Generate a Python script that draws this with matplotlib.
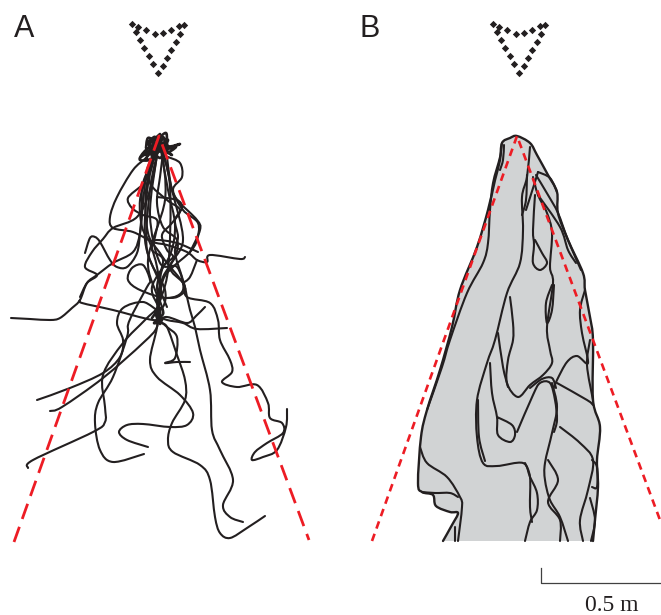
import matplotlib
matplotlib.use("Agg")
import matplotlib.pyplot as plt
from matplotlib.path import Path
from matplotlib.patches import PathPatch

BLACK = "#231f20"
RED = "#ed1c24"
GREY = "#d1d3d4"

# values, in image pixels
dots_x = [132, 138, 146, 155, 163, 171, 179, 184, 136, 140, 144, 149, 153, 158, 163, 167, 171, 176, 180]
dots_y = [24, 27, 30, 34, 33, 30, 26, 25, 32, 40, 48, 56, 64, 73, 66, 58, 50, 42, 34]
dots_shift_b = 361

cone_a_x = [14, 159, 309]
cone_a_y = [542, 136, 540]
cone_b_x = [372, 517, 660]
cone_b_y = [541, 136, 520]

# panel A, walked tracks
tracks_a = [
    [(11, 318), (30, 319), (50, 320), (60, 318), (72, 308), (80, 300), (87, 283), (97, 275), (113, 263), (133, 252), (140, 233), (143, 203), (147, 170), (155, 153), (160, 140)],
    [(80, 300), (82, 303), (113, 310), (153, 320), (167, 317), (187, 323), (196, 316), (205, 307)],
    [(245, 257), (240, 259), (210, 255), (207, 262), (197, 260), (187, 252), (167, 245), (153, 242), (133, 232), (113, 228), (110, 217), (117, 197), (133, 170), (147, 157), (160, 143)],
    [(85, 253), (90, 238), (95, 237), (100, 242), (110, 260), (117, 267), (127, 267), (137, 253), (140, 233), (142, 207), (143, 183), (157, 150)],
    [(80, 297), (87, 283), (97, 275), (85, 267), (92, 252), (103, 239), (113, 228), (137, 217), (150, 190), (158, 150)],
    [(265, 516), (247, 528), (230, 538), (220, 533), (215, 517), (210, 480), (200, 465), (173, 452), (168, 440), (172, 423), (185, 400), (185, 380), (177, 355), (167, 327), (160, 322), (160, 310), (152, 287), (170, 255), (175, 225), (168, 190), (160, 145)],
    [(243, 522), (230, 517), (223, 505), (233, 480), (220, 450), (212, 430), (210, 390), (200, 350), (195, 327), (190, 310), (187, 297), (183, 283), (167, 263), (160, 253), (148, 233), (146, 190), (156, 148)],
    [(287, 409), (286, 427), (277, 450), (263, 457), (252, 460), (255, 452), (267, 443), (283, 433), (282, 423), (270, 418), (268, 403), (257, 385), (237, 387), (222, 382), (232, 372), (230, 360), (220, 340), (218, 320), (210, 303), (187, 297), (183, 283), (170, 267), (183, 240), (172, 190), (163, 150)],
    [(37, 400), (70, 388), (103, 373), (120, 357), (123, 340), (117, 323), (123, 308), (143, 302), (160, 310), (165, 290), (147, 250), (150, 190), (158, 150)],
    [(50, 411), (62, 407), (103, 378), (143, 343), (157, 327), (157, 310), (168, 270), (170, 187), (160, 145)],
    [(28, 468), (33, 460), (93, 432), (105, 422), (105, 407), (103, 375), (123, 343), (145, 320), (158, 306), (160, 285), (145, 240), (150, 170), (160, 150)],
    [(144, 454), (113, 462), (100, 450), (95, 423), (98, 403), (113, 377), (127, 337), (128, 325), (133, 313), (147, 287), (150, 280), (143, 265), (132, 268), (128, 280), (140, 290), (167, 298), (183, 290), (177, 267), (160, 263), (150, 215), (157, 155)],
    [(148, 447), (127, 440), (119, 432), (127, 425), (143, 424), (170, 427), (187, 425), (193, 413), (180, 395), (157, 377), (150, 360), (157, 327), (158, 300), (148, 260), (165, 200), (162, 150)],
    [(190, 362), (177, 362), (165, 363), (175, 358), (177, 337), (167, 327), (160, 321)],
    [(227, 328), (197, 329), (183, 323), (167, 320), (158, 316)],
    [(168, 157), (180, 163), (182, 177), (173, 190), (183, 210), (198, 223), (197, 240), (190, 252), (173, 267), (163, 280), (158, 310)],
    [(157, 152), (147, 177), (140, 200), (142, 227), (150, 243), (157, 267), (160, 293), (157, 320)],
    [(163, 153), (160, 177), (157, 203), (163, 227), (177, 240), (175, 257), (163, 277), (157, 300), (160, 317)],
    [(153, 163), (150, 183), (167, 200), (180, 210), (172, 223), (162, 235), (167, 250), (173, 257), (163, 267), (160, 287), (167, 307)],
    [(167, 157), (170, 180), (173, 193), (180, 203), (197, 220), (200, 230), (190, 252)],
    [(157, 197), (177, 200), (182, 208), (175, 220), (178, 237), (175, 253), (182, 277), (185, 290), (177, 297), (167, 298)],
    [(140, 187), (128, 198), (132, 208), (143, 215), (157, 220), (155, 237), (152, 250), (163, 260), (157, 287), (163, 310)],
    [(198, 252), (177, 243), (157, 240), (152, 243)],
    [(197, 260), (190, 277), (183, 283)],
]

# dense knots where the tracks start and cross
knots_a = [
    [(146, 148), (148, 138), (156, 140), (166, 133), (168, 146), (180, 144), (166, 150), (172, 155), (158, 145), (146, 150), (140, 160), (156, 158), (150, 146)],
    [(160, 134), (150, 145), (164, 152), (156, 138), (152, 156), (168, 140), (148, 142), (160, 158), (166, 142), (154, 150)],
    [(147, 143), (155, 137), (150, 152), (143, 155), (158, 150), (163, 137), (167, 148), (176, 147), (165, 153), (156, 143)],
    [(140, 158), (150, 150), (146, 160), (156, 155), (150, 146), (162, 147), (152, 142)],
    [(152, 318), (160, 308), (163, 314), (154, 323), (162, 320), (155, 312), (160, 324)],
]

# panel B, area swept by the tracks, bottom left over the apex to bottom right
outer_b = [(443, 541), (452, 525), (458, 513), (450, 512), (436, 506), (433, 495), (422, 492), (418, 483), (421, 437), (427, 410), (440, 370), (452, 327), (460, 290), (477, 247), (488, 210), (495, 180), (500, 160), (502, 143), (510, 138), (517, 136), (530, 143), (537, 155), (548, 175), (557, 192), (558, 213), (568, 240), (583, 273), (585, 290), (590, 317), (593, 340), (593, 400), (600, 427), (597, 460), (598, 487), (595, 520), (593, 541)]

lines_b = [
    [(502, 143), (500, 157), (493, 183), (490, 210), (488, 243), (483, 263), (467, 293), (450, 340), (442, 367), (427, 410)],
    [(530, 147), (527, 177), (522, 197), (523, 230), (520, 263), (507, 293), (495, 340), (487, 363), (477, 400), (477, 437), (483, 463), (497, 466), (523, 463), (530, 477), (537, 493), (537, 510), (530, 522), (525, 541)],
    [(510, 297), (513, 323), (513, 340), (508, 360), (507, 383), (518, 397), (530, 385), (543, 375), (552, 363), (550, 350), (547, 327), (553, 283), (550, 267), (552, 233), (547, 213), (538, 195), (533, 177)],
    [(535, 195), (533, 230), (534, 245), (533, 263), (540, 270), (547, 263), (542, 253), (535, 240)],
    [(538, 172), (550, 178), (557, 192)],
    [(536, 175), (548, 195), (558, 213), (568, 240), (581, 270)],
    [(538, 195), (560, 227), (568, 250), (576, 263)],
    [(552, 285), (546, 303), (547, 323), (552, 310), (554, 285)],
    [(585, 290), (580, 310), (582, 333), (588, 363), (577, 356), (567, 362), (557, 380), (553, 390)],
    [(590, 340), (587, 365), (593, 400)],
    [(557, 383), (587, 400), (593, 405)],
    [(517, 432), (533, 395), (540, 383), (550, 383), (555, 400), (557, 420), (554, 432)],
    [(530, 388), (542, 379), (552, 378), (556, 388)],
    [(552, 383), (557, 407), (552, 433), (545, 463), (545, 480), (550, 500), (560, 517), (568, 541)],
    [(548, 460), (558, 480), (548, 502), (560, 520), (560, 541)],
    [(560, 427), (580, 443), (593, 460), (588, 490), (580, 520), (583, 541)],
    [(590, 498), (595, 520), (591, 541)],
    [(490, 363), (492, 393), (497, 417), (498, 435), (510, 442), (515, 435), (512, 425), (497, 417)],
    [(498, 333), (503, 367), (508, 387)],
    [(420, 447), (427, 463), (447, 477), (460, 497), (462, 507), (458, 541)],
    [(422, 492), (435, 493), (450, 493), (458, 497)],
    [(455, 527), (455, 541)],
    [(525, 463), (530, 477), (530, 507), (532, 522)],
    [(592, 460), (597, 467), (597, 487), (592, 487)],
    [(504, 145), (503, 160), (500, 170)],
    [(527, 175), (526, 200), (522, 215)],
    [(538, 172), (534, 185), (526, 210)],
    [(478, 400), (479, 437), (485, 461)],
]


def curve(points):
    # smooth path through the picture's points, as Bezier segments
    ends = [points[0]] + points + [points[-1]]
    verts = [points[0]]
    codes = [Path.MOVETO]
    for i in range(1, len(ends) - 2):
        p0, p1, p2, p3 = ends[i - 1], ends[i], ends[i + 1], ends[i + 2]
        verts.append((p1[0] + (p2[0] - p0[0]) / 6, p1[1] + (p2[1] - p0[1]) / 6))
        verts.append((p2[0] - (p3[0] - p1[0]) / 6, p2[1] - (p3[1] - p1[1]) / 6))
        verts.append(p2)
        codes += [Path.CURVE4, Path.CURVE4, Path.CURVE4]
    return Path(verts, codes)


def draw_curves(ax, groups, lw):
    for points in groups:
        ax.add_patch(PathPatch(curve(points), fill=False, ec=BLACK, lw=lw, capstyle="round", joinstyle="round"))


fig = plt.figure(figsize=(6.61, 6.15), dpi=100)
ax = fig.add_axes([0, 0, 1, 1])
ax.set_xlim(0, 661)
ax.set_ylim(615, 0)
ax.axis("off")

# panel A
draw_curves(ax, tracks_a, 1.5)
draw_curves(ax, knots_a, 1.9)
ax.plot(cone_a_x, cone_a_y, color=RED, lw=2.0, dashes=(5.8, 3.0), zorder=5)

# panel B
ax.add_patch(PathPatch(curve(outer_b), fc=GREY, ec="none"))
draw_curves(ax, [outer_b], 1.7)
draw_curves(ax, lines_b, 1.5)
ax.plot(cone_b_x, cone_b_y, color=RED, lw=1.9, dashes=(2.9, 2.1), zorder=5)

# the dotted triangles
ax.scatter(dots_x, dots_y, s=14, marker="D", color=BLACK, linewidths=0)
ax.scatter([x + dots_shift_b for x in dots_x], dots_y, s=14, marker="D", color=BLACK, linewidths=0)

ax.text(14, 37, "A", family="Liberation Sans", fontsize=22, color=BLACK, va="baseline")
ax.text(359, 37, "B", family="Liberation Sans", fontsize=22, color=BLACK, va="baseline")

# scale bar
ax.plot([541, 541, 661], [568, 583, 583], color="#404040", lw=0.9)
ax.text(585, 611, "0.5 m", family="Liberation Serif", fontsize=17, color=BLACK, va="baseline")

fig.savefig("out.png", dpi=100)
